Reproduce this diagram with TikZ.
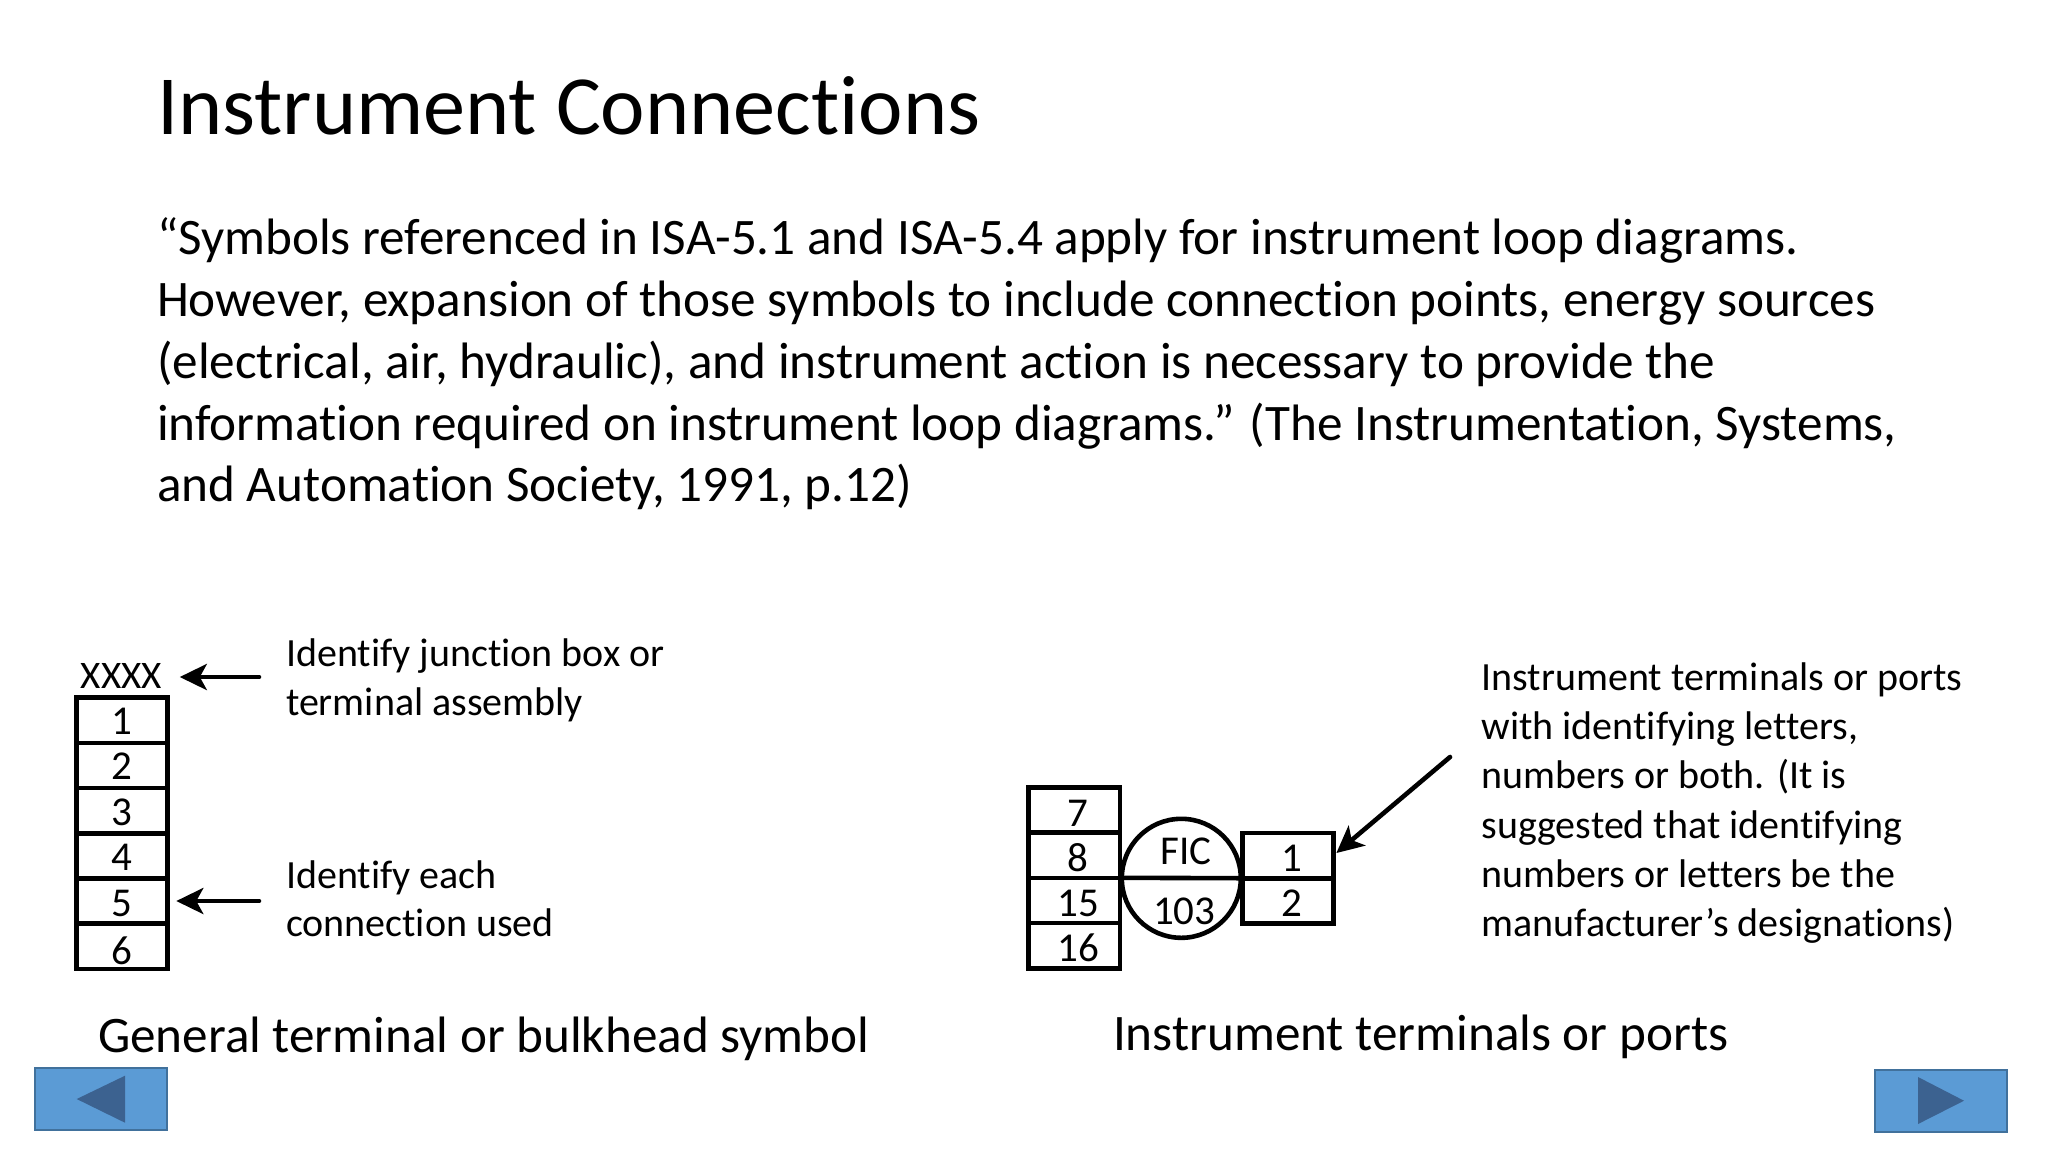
\documentclass[tikz,border=0pt]{standalone}
\usepackage{fontspec}
\setmainfont[Ligatures=NoCommon]{Carlito}
\usetikzlibrary{positioning,arrows.meta}
\definecolor{navfill}{HTML}{5B9BD5}
\definecolor{navedge}{HTML}{41719C}
\definecolor{navmark}{HTML}{3C6290}
\begin{document}
\begin{tikzpicture}
	[x=0.5pt, y=-0.5pt,
	every node/.style = {inner sep=0pt, outer sep=0pt, align=left, text=black},
	heading/.style = {anchor=north west, font=\fontsize{42.1}{52}\selectfont},
	bodytext/.style = {anchor=north west, font=\fontsize{25.6}{30.85}\selectfont},
	caption/.style = {anchor=north west, font=\fontsize{25.6}{31}\selectfont},
	note/.style = {anchor=north west, font=\fontsize{20}{24.3}\selectfont},
	cell/.style = {draw, line width=2.3pt, minimum width=45.3pt, minimum height=22.6pt, align=center, text height=14pt, text depth=0pt, font=\fontsize{20.5}{24}\selectfont},
	portcell/.style = {cell, minimum width=45.8pt, text height=16pt, execute at begin node=\hspace*{4pt}},
	pointer/.style = {line width=2.3pt, line cap=round, -{Stealth[length=13.5pt, width=13pt, inset=3.5pt]}},
	navbtn/.style = {draw=navedge, line width=0.8pt, fill=navfill, minimum width=66pt, minimum height=31pt}]
	\useasboundingbox (0,0) rectangle (2048,1152);

	\node[heading] (title) at (157,77) {Instrument Connections};
	\node[bodytext] (quote) at (157,218) {“Symbols referenced in ISA-5.1 and ISA-5.4 apply for instrument loop diagrams.\\
		However, expansion of those symbols to include connection points, energy sources\\
		(electrical, air, hydraulic), and instrument action is necessary to provide the\\
		information required on instrument loop diagrams.” (The Instrumentation, Systems,\\
		and Automation Society, 1991, p.12)};

	% terminal strip
	\node[cell] (term1) at (122,720.3) {1};
	\foreach \n/\p/\h in {2/1/14pt, 3/2/14.7pt, 4/3/15pt, 5/4/15.7pt, 6/5/17.7pt}
		\node[cell, below=0pt of term\p, text height=\h] (term\n) {\n};
	\node[font=\fontsize{19.5}{24}\selectfont, anchor=base] (xxxx) at (121.3,688) {XXXX};
	\node[note] (noteA) at (286,639) {Identify junction box or\\terminal assembly};
	\node[note] (noteB) at (286,860.5) {Identify each\\connection used};
	\coordinate (tailA) at (259,677);
	\coordinate (tailB) at (259,901);
	\draw[pointer, shorten >=9pt] (tailA) -- (xxxx.east |- tailA);
	\draw[pointer, shorten >=4.5pt] (tailB) -- (term5.east |- tailB);
	\node[caption] (capA) at (98,1017) {General terminal or bulkhead symbol};

	% instrument with its ports
	\node[portcell] (port7) at (1074.2,810) {7};
	\foreach \n/\p in {8/7, 15/8, 16/15}
		\node[portcell, below=0pt of port\p] (port\n) {\n};
	\node[draw, circle, line width=2.3pt, minimum size=59.5pt] (fic) at (1181.3,878.3) {};
	\node[cell, draw=none, minimum width=0pt, minimum height=0pt, text height=13pt] (ficTop) at (1185.7,851) {FIC};
	\node[cell, draw=none, minimum width=0pt, minimum height=0pt, text height=13pt] (ficNum) at (1184.3,911.3) {103};
	\node[portcell, minimum width=45.5pt] (inst1) at (1287.8,855.6) {1};
	\node[portcell, minimum width=45.5pt, below=0pt of inst1] (inst2) {2};
	\draw[line width=2.3pt] (port8.south east) -- (inst1.south west);
	\coordinate (tailC) at (1450,757);
	\draw[pointer, shorten >=2pt] (tailC) -- (inst1.east);
	\node[note, font=\fontsize{20}{24.55}\selectfont] (noteC) at (1481.5,663) {Instrument terminals or ports\\
		with identifying letters,\\
		numbers or both. (It is\\
		suggested that identifying\\
		numbers or letters be the\\
		manufacturer’s designations)};
	\node[caption] (capB) at (1113,1015) {Instrument terminals or ports};

	% slide buttons
	\node[navbtn] (backbtn) at (100.9,1099) {};
	\node[navbtn] (nextbtn) at (1940.7,1100.8) {};
	\fill[navmark] (76.7,1099) -- (125,1075.7) -- (125,1122.7) -- cycle;
	\fill[navmark] (1964,1100.7) -- (1918,1077) -- (1918,1124) -- cycle;
\end{tikzpicture}
\end{document}
